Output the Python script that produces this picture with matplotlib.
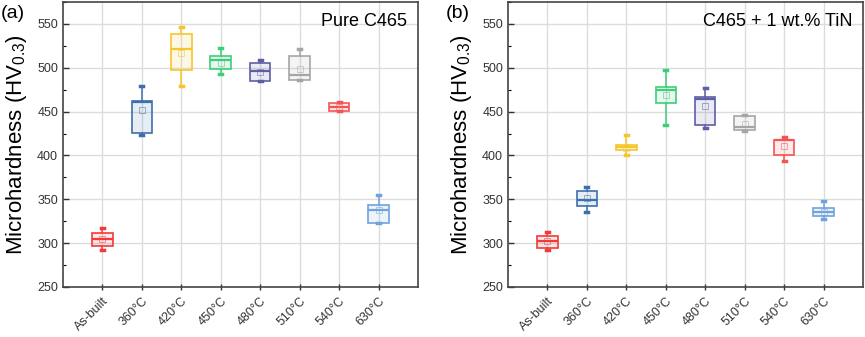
import matplotlib.pyplot as plt
from matplotlib.ticker import MultipleLocator
from matplotlib.colors import to_rgb

plt.rcParams['font.family'] = ['Liberation Sans', 'DejaVu Sans']
plt.rcParams['mathtext.fontset'] = 'custom'
plt.rcParams['mathtext.rm'] = 'Liberation Sans'
plt.rcParams['mathtext.it'] = 'Liberation Sans'

categories = ['As-built', '360°C', '420°C', '450°C', '480°C', '510°C', '540°C', '630°C']
colors = ['#f23a3a', '#3d6fae', '#f5c62c', '#3ccf78', '#5e5ea6', '#a5a5a5', '#f55454', '#6ea3dc']

# panel (a) Pure C465: whisker low, Q1, median, Q3, whisker high, mean
a_wlo = [292, 423.5, 479.5, 493, 485, 486, 451, 323.5]
a_q1 = [297, 426, 497, 499, 485, 486, 451, 323.5]
a_med = [305, 461, 521.5, 509, 496.5, 492, 455.7, 338]
a_q3 = [312, 462, 539, 513, 505, 513, 459.4, 344]
a_whi = [317, 479.5, 547, 523, 509, 521, 460.6, 355]
a_mean = [305, 452, 517, 505.7, 494.7, 498.5, 455, 338]

# panel (b) C465 + 1 wt.% TiN
b_wlo = [292, 336, 401, 435, 431, 428, 394, 327.6]
b_q1 = [294.7, 342.4, 406.5, 459.4, 435, 429.5, 400.8, 330.7]
b_med = [302, 349.6, 409.5, 474.6, 464, 433, 417.8, 335]
b_q3 = [308, 359, 411.7, 478.4, 466.7, 445.5, 417.8, 340]
b_whi = [312.9, 364, 423.5, 497.7, 477, 446, 421.6, 347.7]
b_mean = [302, 351, 409, 469, 456.5, 436, 411, 335]


def draw_panel(ax, wlo, q1, med, q3, whi, mean, tag, title):
    stats = []
    for i in range(len(categories)):
        stats.append({'whislo': wlo[i], 'q1': q1[i], 'med': med[i], 'q3': q3[i],
                      'whishi': whi[i], 'mean': mean[i], 'fliers': []})
    pos = list(range(1, len(categories) + 1))
    bp = ax.bxp(stats, positions=pos, widths=0.52, showmeans=True, patch_artist=True,
                capwidths=0.08, showfliers=False)
    for i, c in enumerate(colors):
        box = bp['boxes'][i]
        box.set_facecolor((*to_rgb(c), 0.12))
        box.set_edgecolor(c)
        box.set_linewidth(1.2)
        bp['medians'][i].set_color(c)
        bp['medians'][i].set_linewidth(1.6)
        for w in bp['whiskers'][2 * i:2 * i + 2]:
            w.set_color(c)
            w.set_linewidth(1.1)
        for cp in bp['caps'][2 * i:2 * i + 2]:
            cp.set_color(c)
            cp.set_linewidth(2.5)
        m = bp['means'][i]
        m.set_marker('s')
        m.set_markersize(4)
        m.set_markerfacecolor('none')
        m.set_markeredgecolor(c)
        m.set_markeredgewidth(0.6)
        m.set_alpha(0.6)
    ax.set_xlim(0, 9)
    ax.set_ylim(250, 575)
    ax.set_xticks(pos)
    ax.set_xticklabels(categories, rotation=45, ha='right', rotation_mode='anchor', fontsize=9)
    ax.yaxis.set_minor_locator(MultipleLocator(25))
    ax.set_yticks([250, 300, 350, 400, 450, 500, 550])
    ax.tick_params(axis='both', which='major', direction='in', length=4, width=1, labelsize=9, colors='#333333')
    ax.tick_params(axis='y', which='minor', direction='in', length=2.5, width=0.8)
    ax.tick_params(axis='x', which='major', direction='inout', length=5)
    ax.grid(True, color='#dcdcdc', linewidth=1)
    ax.set_axisbelow(True)
    for s in ax.spines.values():
        s.set_color('#444444')
        s.set_linewidth(1.2)
    ax.set_ylabel('Microhardness (HV$_{0.3}$)', fontsize=16, labelpad=6)
    ax.text(0.97, 0.93, title, transform=ax.transAxes, ha='right', va='center', fontsize=13)
    ax.text(-0.175, 0.96, tag, transform=ax.transAxes, ha='left', va='center', fontsize=14)


fig = plt.figure(figsize=(8.65, 3.37), dpi=100)
ax1 = fig.add_axes([0.0728, 0.1484, 0.4104, 0.8457])
ax2 = fig.add_axes([0.5873, 0.1484, 0.4104, 0.8457])

draw_panel(ax1, a_wlo, a_q1, a_med, a_q3, a_whi, a_mean, '(a)', 'Pure C465')
draw_panel(ax2, b_wlo, b_q1, b_med, b_q3, b_whi, b_mean, '(b)', 'C465 + 1 wt.% TiN')

plt.savefig('out.png', dpi=100)
plt.close()
